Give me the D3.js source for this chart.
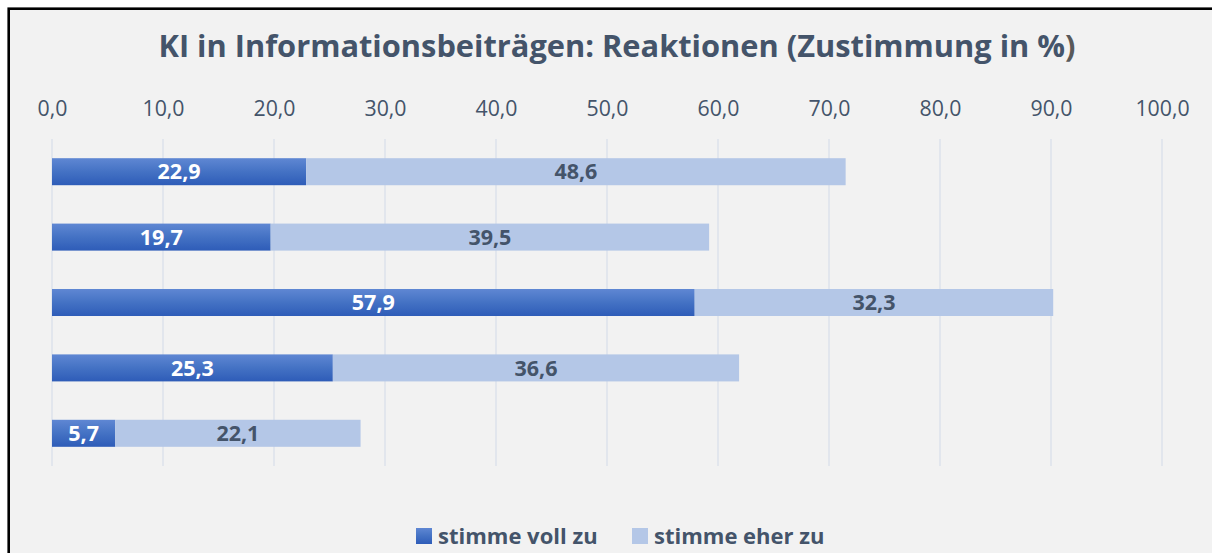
<!DOCTYPE html>
<html>
<head>
<meta charset="utf-8">
<script src="https://cdn.jsdelivr.net/npm/d3@7"></script>
<style>
  html, body { margin: 0; padding: 0; background: #ffffff; }
  svg { display: block; }
  text { font-family: "Open Sans", sans-serif; }
</style>
</head>
<body>
<svg id="chart" width="1212" height="553"></svg>
<script>
// data
const title = "KI in Informationsbeiträgen: Reaktionen (Zustimmung in %)";
const categories = ["Aussage 1", "Aussage 2", "Aussage 3", "Aussage 4", "Aussage 5"];
const seriesNames = ["stimme voll zu", "stimme eher zu"];
const vollZu = [22.9, 19.7, 57.9, 25.3, 5.7];
const eherZu = [48.6, 39.5, 32.3, 36.6, 22.1];
const tickValues = [0, 10, 20, 30, 40, 50, 60, 70, 80, 90, 100];

const textColor = "#44546a";
const lightBlue = "#b4c7e7";
const fmt = v => v.toFixed(1).replace(".", ",");

const svg = d3.select("#chart");

// gradient for the dark series
const defs = svg.append("defs");
const grad = defs.append("linearGradient")
    .attr("id", "darkGrad")
    .attr("x1", 0).attr("y1", 0).attr("x2", 0).attr("y2", 1);
grad.append("stop").attr("offset", "0%").attr("stop-color", "#5f87d3");
grad.append("stop").attr("offset", "50%").attr("stop-color", "#4472c4");
grad.append("stop").attr("offset", "100%").attr("stop-color", "#2e5cb8");

// chart frame
svg.append("rect")
    .attr("x", 8.7).attr("y", 8.7)
    .attr("width", 1240).attr("height", 560)
    .attr("fill", "#f2f2f2")
    .attr("stroke", "#000")
    .attr("stroke-width", 2.6);

// title, the closing bracket is greyer in the original
const titleText = svg.append("text")
    .attr("x", 617).attr("y", 57)
    .attr("text-anchor", "middle")
    .attr("font-size", 30.8)
    .attr("font-weight", "bold")
    .attr("fill", textColor);
titleText.append("tspan").text(title.slice(0, -1));
titleText.append("tspan").attr("fill", "#595959").text(title.slice(-1));

const x = d3.scaleLinear().domain([0, 100]).range([52, 1162]);
const y = d3.scaleBand().domain(categories).range([139, 466])
    .paddingInner(0.587).paddingOuter(0.2935);

// gridlines
svg.append("g")
    .selectAll("line")
    .data(tickValues)
    .join("line")
    .attr("x1", d => x(d)).attr("x2", d => x(d))
    .attr("y1", 139).attr("y2", 466)
    .attr("stroke", "#dce2eb")
    .attr("stroke-width", 1.5);

// top axis
const axis = svg.append("g")
    .attr("transform", "translate(0,116)")
    .call(d3.axisTop(x).tickValues(tickValues).tickFormat(fmt).tickSize(0).tickPadding(0));
axis.select(".domain").remove();
axis.selectAll("text")
    .attr("font-family", null)
    .attr("font-size", 21.3)
    .attr("fill", textColor)
    .attr("dy", 0);

const rows = categories.map((c, i) => ({cat: c, a: vollZu[i], b: eherZu[i]}));

const barG = svg.append("g");
barG.selectAll(".voll")
    .data(rows)
    .join("rect")
    .attr("class", "voll")
    .attr("x", x(0))
    .attr("y", d => y(d.cat))
    .attr("width", d => x(d.a) - x(0))
    .attr("height", y.bandwidth())
    .attr("fill", "url(#darkGrad)");

barG.selectAll(".eher")
    .data(rows)
    .join("rect")
    .attr("class", "eher")
    .attr("x", d => x(d.a))
    .attr("y", d => y(d.cat))
    .attr("width", d => x(d.a + d.b) - x(d.a))
    .attr("height", y.bandwidth())
    .attr("fill", lightBlue);

// value labels
barG.selectAll(".lblA")
    .data(rows)
    .join("text")
    .attr("x", d => (x(0) + x(d.a)) / 2)
    .attr("y", d => y(d.cat) + y.bandwidth() / 2)
    .attr("dy", "0.36em")
    .attr("text-anchor", "middle")
    .attr("font-size", 21.5)
    .attr("font-weight", "bold")
    .attr("fill", "#ffffff")
    .text(d => fmt(d.a));

barG.selectAll(".lblB")
    .data(rows)
    .join("text")
    .attr("x", d => (x(d.a) + x(d.a + d.b)) / 2)
    .attr("y", d => y(d.cat) + y.bandwidth() / 2)
    .attr("dy", "0.36em")
    .attr("text-anchor", "middle")
    .attr("font-size", 21.5)
    .attr("font-weight", "bold")
    .attr("fill", textColor)
    .text(d => fmt(d.b));

// legend
const legendX = [416, 632];
const legendFill = ["url(#darkGrad)", lightBlue];
const leg = svg.append("g").selectAll("g")
    .data(seriesNames)
    .join("g")
    .attr("transform", (d, i) => `translate(${legendX[i]},528)`);
leg.append("rect")
    .attr("width", 16).attr("height", 16)
    .attr("fill", (d, i) => legendFill[i]);
leg.append("text")
    .attr("x", 22).attr("y", 8)
    .attr("dy", "0.36em")
    .attr("font-size", 22)
    .attr("font-weight", "bold")
    .attr("fill", textColor)
    .text(d => d);
</script>
</body>
</html>
